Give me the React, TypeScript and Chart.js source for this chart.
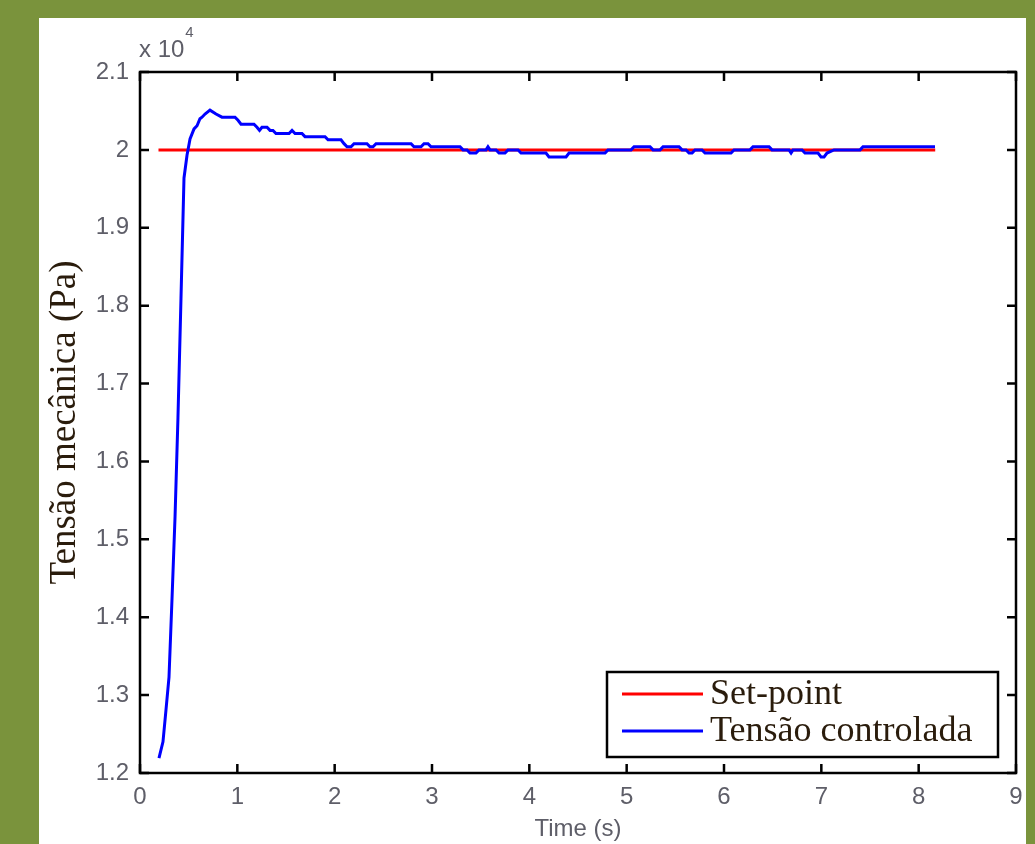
import React, { useEffect, useRef } from "react";
import { Chart, registerables } from "chart.js";

Chart.register(...registerables);

// ---------- data ----------
const xTickLabels = ["0", "1", "2", "3", "4", "5", "6", "7", "8", "9"];
const yTickLabels = ["1.2", "1.3", "1.4", "1.5", "1.6", "1.7", "1.8", "1.9", "2", "2.1"];
const yExponentText = "x 10";
const yExponent = "4";
const xTitle = "Time (s)";
const yTitle = "Tensão mecânica (Pa)";
const seriesLabels = ["Set-point", "Tensão controlada"];
const seriesColors = ["#ff0000", "#0000ff"];

const setpointTime = [0.19, 8.17];
const setpointValue = [2, 2];

const responseTime = [
  0.195, 0.236, 0.267, 0.298, 0.329, 0.36, 0.39, 0.421, 0.452, 0.483, 0.514, 0.555, 0.586, 0.616,
  0.637, 0.668, 0.719, 0.781, 0.842, 0.976, 1.007, 1.038, 1.171, 1.202, 1.228, 1.253, 1.305, 1.336,
  1.366, 1.397, 1.531, 1.562, 1.593, 1.664, 1.695, 1.901, 1.932, 2.065, 2.096, 2.127, 2.168, 2.199,
  2.332, 2.363, 2.394, 2.425, 2.785, 2.815, 2.887, 2.918, 2.959, 2.99, 3.288, 3.319, 3.36, 3.39,
  3.452, 3.483, 3.555, 3.575, 3.596, 3.658, 3.689, 3.75, 3.781, 3.884, 3.915, 4.171, 4.202, 4.377,
  4.408, 4.778, 4.808, 5.045, 5.076, 5.24, 5.271, 5.343, 5.374, 5.538, 5.569, 5.61, 5.641, 5.672,
  5.702, 5.774, 5.805, 6.072, 6.103, 6.267, 6.298, 6.463, 6.493, 6.668, 6.689, 6.709, 6.802, 6.832,
  6.966, 6.997, 7.028, 7.058, 7.13, 7.398, 7.428, 8.168,
];
const responseValue = [
  1.219, 1.24, 1.281, 1.323, 1.424, 1.529, 1.656, 1.809, 1.964, 1.993, 2.014, 2.027, 2.031, 2.04,
  2.042, 2.046, 2.051, 2.046, 2.042, 2.042, 2.038, 2.033, 2.033, 2.029, 2.025, 2.029, 2.029, 2.025,
  2.025, 2.021, 2.021, 2.025, 2.021, 2.021, 2.017, 2.017, 2.013, 2.013, 2.008, 2.004, 2.004, 2.008,
  2.008, 2.004, 2.004, 2.008, 2.008, 2.004, 2.004, 2.008, 2.008, 2.004, 2.004, 2.0, 2.0, 1.996,
  1.996, 2.0, 2.0, 2.004, 2.0, 2.0, 1.996, 1.996, 2.0, 2.0, 1.996, 1.996, 1.991, 1.991,
  1.996, 1.996, 2.0, 2.0, 2.004, 2.004, 2.0, 2.0, 2.004, 2.004, 2.0, 2.0, 1.996, 1.996,
  2.0, 2.0, 1.996, 1.996, 2.0, 2.0, 2.004, 2.004, 2.0, 2.0, 1.996, 2.0, 2.0, 1.996,
  1.996, 1.991, 1.991, 1.996, 2.0, 2.0, 2.004, 2.004,
];

// ---------- styles ----------
const GREEN = "#7a933c";
const TICK_COLOR = "#5e5e68";
const SERIF_COLOR = "#2a1c0c";

const framePlugin = {
  id: "matlabFrame",
  afterDraw(chart: any) {
    const { ctx, chartArea, scales } = chart;
    const { left, right, top, bottom } = chartArea;
    const tl = 9;
    ctx.save();
    ctx.strokeStyle = "#000";
    ctx.lineWidth = 2.5;
    ctx.strokeRect(left, top, right - left, bottom - top);
    ctx.beginPath();
    scales.x.ticks.forEach((t: any) => {
      const px = scales.x.getPixelForValue(t.value);
      ctx.moveTo(px, bottom);
      ctx.lineTo(px, bottom - tl);
      ctx.moveTo(px, top);
      ctx.lineTo(px, top + tl);
    });
    scales.y.ticks.forEach((t: any) => {
      const py = scales.y.getPixelForValue(t.value);
      ctx.moveTo(left, py);
      ctx.lineTo(left + tl, py);
      ctx.moveTo(right, py);
      ctx.lineTo(right - tl, py);
    });
    ctx.stroke();

    // exponent label
    ctx.fillStyle = TICK_COLOR;
    ctx.textBaseline = "alphabetic";
    ctx.textAlign = "left";
    ctx.font = "24px 'Liberation Sans', Arial, sans-serif";
    ctx.fillText(yExponentText, left - 1, top - 15);
    const w = ctx.measureText(yExponentText).width;
    ctx.font = "15px 'Liberation Sans', Arial, sans-serif";
    ctx.fillText(yExponent, left - 1 + w + 1, top - 35);

    // legend
    const bw = 391;
    const bh = 85;
    const bx = right - 18 - bw;
    const by = bottom - 16 - bh;
    ctx.fillStyle = "#fff";
    ctx.fillRect(bx, by, bw, bh);
    ctx.strokeStyle = "#000";
    ctx.lineWidth = 2.5;
    ctx.strokeRect(bx, by, bw, bh);
    const rows = [by + 22, by + 59];
    ctx.font = "36px 'Liberation Serif', 'Times New Roman', serif";
    ctx.textBaseline = "middle";
    seriesLabels.forEach((lab, i) => {
      ctx.strokeStyle = seriesColors[i];
      ctx.lineWidth = 3;
      ctx.beginPath();
      ctx.moveTo(bx + 15, rows[i]);
      ctx.lineTo(bx + 96, rows[i]);
      ctx.stroke();
      ctx.fillStyle = SERIF_COLOR;
      ctx.fillText(lab, bx + 103, rows[i] + 1);
    });
    ctx.restore();
  },
};

export default function App() {
  const canvasRef = useRef<HTMLCanvasElement | null>(null);

  useEffect(() => {
    document.body.style.margin = "0";
    const canvas = canvasRef.current;
    if (!canvas) return;
    const chart = new Chart(canvas, {
      type: "line",
      data: {
        datasets: [
          {
            label: seriesLabels[0],
            data: setpointTime.map((t, i) => ({ x: t, y: setpointValue[i] })),
            borderColor: seriesColors[0],
            backgroundColor: seriesColors[0],
            borderWidth: 3,
            pointRadius: 0,
            tension: 0,
            order: 1,
          },
          {
            label: seriesLabels[1],
            data: responseTime.map((t, i) => ({ x: t, y: responseValue[i] })),
            borderColor: seriesColors[1],
            backgroundColor: seriesColors[1],
            borderWidth: 3,
            pointRadius: 0,
            tension: 0,
            order: 0,
          },
        ],
      },
      options: {
        responsive: false,
        animation: false,
        layout: { padding: { top: 54, right: 10, left: 0, bottom: 0 } },
        plugins: {
          legend: { display: false },
          tooltip: { enabled: false },
        },
        scales: {
          x: {
            type: "linear",
            min: 0,
            max: 9,
            ticks: {
              stepSize: 1,
              padding: 10,
              color: TICK_COLOR,
              font: { family: "'Liberation Sans', Arial, sans-serif", size: 24 },
              callback: (v: any) => xTickLabels[Math.round(Number(v))] ?? "",
              maxRotation: 0,
            },
            grid: { display: false, drawTicks: false },
            border: { display: false },
            title: {
              display: true,
              text: xTitle,
              color: TICK_COLOR,
              font: { family: "'Liberation Sans', Arial, sans-serif", size: 24 },
              padding: { top: 0, bottom: 0 },
            },
            afterFit: (s: any) => {
              s.height = 71;
              s.paddingLeft = 0;
              s.paddingRight = 0;
            },
          },
          y: {
            type: "linear",
            min: 1.2,
            max: 2.1,
            ticks: {
              stepSize: 0.1,
              padding: 11,
              color: TICK_COLOR,
              font: { family: "'Liberation Sans', Arial, sans-serif", size: 24 },
              callback: (v: any) => yTickLabels[Math.round((Number(v) - 1.2) * 10)] ?? "",
            },
            grid: { display: false, drawTicks: false },
            border: { display: false },
            title: {
              display: true,
              text: yTitle,
              color: SERIF_COLOR,
              font: { family: "'Liberation Serif', 'Times New Roman', serif", size: 37 },
              padding: { top: 4, bottom: 0 },
            },
            afterFit: (s: any) => {
              s.width = 101;
              s.paddingTop = 0;
              s.paddingBottom = 0;
            },
          },
        },
      },
      plugins: [framePlugin],
    } as any);
    return () => chart.destroy();
  }, []);

  return (
    <div
      style={{
        position: "fixed",
        left: 0,
        top: 0,
        width: 1035,
        height: 844,
        background: GREEN,
        overflow: "hidden",
      }}
    >
      <canvas
        ref={canvasRef}
        width={987}
        height={826}
        style={{ position: "absolute", left: 39, top: 18, background: "#fff" }}
      />
    </div>
  );
}
